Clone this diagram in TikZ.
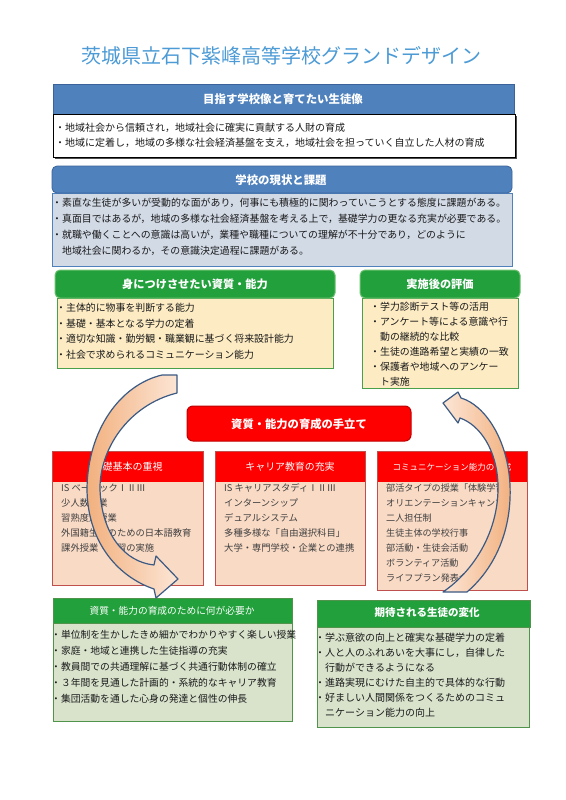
\documentclass[tikz,border=0pt]{standalone}
\usepackage{fontspec}
\setmainfont{Noto Sans CJK JP}
\definecolor{titleblue}{HTML}{4C9BD6}
\definecolor{hdrblue}{HTML}{4F81BD}
\definecolor{hdrblueline}{HTML}{3A6399}
\definecolor{bodyblue}{HTML}{D2DAE6}
\definecolor{hdrgreen}{HTML}{22A03C}
\definecolor{hdrgreenline}{HTML}{6CC070}
\definecolor{cream}{HTML}{FCEBC3}
\definecolor{creamline}{HTML}{4AA04A}
\definecolor{redfill}{HTML}{FF0000}
\definecolor{redline}{HTML}{C00000}
\definecolor{peach}{HTML}{F9DAC5}
\definecolor{peachline}{HTML}{C0504D}
\definecolor{sage}{HTML}{D9E3CC}
\definecolor{sageline}{HTML}{4F944A}
\definecolor{arrowline}{HTML}{3B5A84}
\definecolor{arrowlight}{HTML}{FCE6D6}
\definecolor{arrowdark}{HTML}{F2B07E}
\definecolor{txtdark}{HTML}{1A1A1A}
\definecolor{txtgray}{HTML}{404040}
\newcommand\setfs[2]{\fontsize{#1}{#2}\selectfont}
\tikzset{
  hdrtext/.style={text=white, inner sep=0pt, font=\bfseries\setfs{11.4}{13}},
  bodytext/.style={anchor=north west, inner sep=0pt, align=left, text=txtdark},
  bandL/.style={draw=arrowline, line width=1.2pt, line join=round, left color=arrowdark, right color=arrowlight},
  bandR/.style={draw=arrowline, line width=1.2pt, line join=round, left color=arrowlight, right color=arrowdark},
}
\begin{document}
\begin{tikzpicture}[x=1pt,y=-1pt]
\useasboundingbox (0,0) rectangle (565,800);
\fill[white] (0,0) rectangle (565,800);

% title
\node[text=titleblue, inner sep=0pt, font=\setfs{20}{22}] (title) at (281,56) {茨城県立石下紫峰高等学校グランドデザイン};

% box 1
\fill[hdrblue, draw=hdrblueline, line width=0.8pt] (53,84) rectangle (514,114);
\fill[black!70] (55,116) rectangle (517,159);
\draw[black, fill=white, line width=0.8pt] (53,114) rectangle (515,157);
\node[hdrtext] (h1) at (283,99) {目指す学校像と育てたい生徒像};
\node[bodytext, font=\setfs{10}{15}] (t1) at (55,123.2) {・地域社会から信頼され，地域社会に確実に貢献する人財の育成\\・地域に定着し，地域の多様な社会経済基盤を支え，地域社会を担っていく自立した人材の育成};

% box 2
\draw[fill=bodyblue, draw=hdrblue, line width=0.8pt] (52,193) rectangle (512,266);
\draw[fill=hdrblue, draw=hdrblueline, line width=0.8pt, rounded corners=5pt] (52,166) rectangle (512,193);
\node[hdrtext] (h2) at (281,180) {学校の現状と課題};
\node[bodytext, font=\setfs{9.9}{16}] (t2) at (52,198.2) {・素直な生徒が多いが受動的な面があり，何事にも積極的に関わっていこうとする態度に課題がある。\\・真面目ではあるが，地域の多様な社会経済基盤を考える上で，基礎学力の更なる充実が必要である。\\・就職や働くことへの意識は高いが，業種や職種についての理解が不十分であり，どのように\\　地域社会に関わるか，その意識決定過程に課題がある。};

% green left
\draw[fill=cream, draw=creamline, line width=1pt] (57,298) rectangle (333,368);
\draw[fill=hdrgreen, draw=hdrgreenline, line width=1pt, rounded corners=5pt] (55,270) rectangle (335,298);
\node[hdrtext, font=\bfseries\setfs{11.2}{13}] (g1) at (195,284) {身につけさせたい資質・能力};
\node[bodytext, font=\setfs{9.9}{15.6}] (t3) at (56,303.2) {・主体的に物事を判断する能力\\・基礎・基本となる学力の定着\\・適切な知識・勤労観・職業観に基づく将来設計能力\\・社会で求められるコミュニケーション能力};

% green right
\draw[fill=cream, draw=creamline, line width=1pt] (362,298) rectangle (518,388);
\draw[fill=hdrgreen, draw=hdrgreenline, line width=1pt, rounded corners=5pt] (360,270) rectangle (520,298);
\node[hdrtext, font=\bfseries\setfs{11.2}{13}] (g2) at (440,284) {実施後の評価};
\node[bodytext, font=\setfs{9.9}{15}] (t4) at (370,302.2) {・学力診断テスト等の活用\\・アンケート等による意識や行\\　動の継続的な比較\\・生徒の進路希望と実績の一致\\・保護者や地域へのアンケー\\　ト実施};

% red centre
\draw[fill=redfill, draw=redline, line width=1pt, rounded corners=6pt] (187,406) rectangle (411,441);
\node[hdrtext, font=\bfseries\setfs{11.3}{13}] (r0) at (299,424) {資質・能力の育成の手立て};

% three red boxes
\draw[fill=peach, draw=peachline, line width=1pt] (52,451) rectangle (203,585);
\fill[redfill] (52.5,451.5) rectangle (202.5,482);
\draw[peachline, line width=1pt] (52,451) rectangle (203,585);
\node[text=white, inner sep=0pt, font=\setfs{10}{12}] (rb1) at (127.5,467) {基礎基本の重視};
\node[bodytext, text=txtgray, font=\setfs{9.3}{15}] (t5) at (61,483.5) {IS ベーシックⅠⅡⅢ\\少人数授業\\習熟度別授業\\外国籍生徒のための日本語教育\\課外授業・補習の実施};

\draw[fill=peach, draw=peachline, line width=1pt] (215,451) rectangle (365,585);
\fill[redfill] (215.5,451.5) rectangle (364.5,482);
\draw[peachline, line width=1pt] (215,451) rectangle (365,585);
\node[text=white, inner sep=0pt, font=\setfs{9.9}{12}] (rb2) at (290,467) {キャリア教育の充実};
\node[bodytext, text=txtgray, font=\setfs{9.3}{15}] (t6) at (224,483.5) {IS キャリアスタディⅠⅡⅢ\\インターンシップ\\デュアルシステム\\多種多様な「自由選択科目」\\大学・専門学校・企業との連携};

\draw[fill=peach, draw=peachline, line width=1pt] (377,451) rectangle (527,590);
\fill[redfill] (377.5,451.5) rectangle (526.5,482);
\draw[peachline, line width=1pt] (377,451) rectangle (527,590);
\node[text=white, inner sep=0pt, font=\setfs{8.5}{10}] (rb3) at (452,467) {コミュニケーション能力の育成};
\node[bodytext, text=txtgray, font=\setfs{9.1}{15}] (t7) at (386,483.5) {部活タイプの授業「体験学習」\\オリエンテーションキャンプ\\二人担任制\\生徒主体の学校行事\\部活動・生徒会活動\\ボランティア活動\\ライフプラン発表会};

% bottom left
\draw[fill=sage, draw=sageline, line width=1pt] (53,623) rectangle (292,721);
\draw[fill=hdrgreen, draw=sageline, line width=1pt] (53,598) rectangle (292,623);
\node[text=white, inner sep=0pt, font=\setfs{9.7}{12}] (b1) at (172,611) {資質・能力の育成のために何が必要か};
\node[bodytext, font=\setfs{9.8}{16}] (t8) at (51,630.3) {・単位制を生かしたきめ細かでわかりやすく楽しい授業\\・家庭・地域と連携した生徒指導の充実\\・教員間での共通理解に基づく共通行動体制の確立\\・３年間を見通した計画的・系統的なキャリア教育\\・集団活動を通した心身の発達と個性の伸長};

% bottom right
\draw[fill=sage, draw=sageline, line width=1pt] (317,627) rectangle (529,727);
\draw[fill=hdrgreen, draw=sageline, line width=1pt] (317,600) rectangle (530,627);
\node[hdrtext, font=\bfseries\setfs{10.5}{12}] (b2) at (427,613) {期待される生徒の変化};
\node[bodytext, font=\setfs{10}{15}] (t9) at (315,633.2) {・学ぶ意欲の向上と確実な基礎学力の定着\\・人と人のふれあいを大事にし，自律した\\　行動ができるようになる\\・進路実現にむけた自主的で具体的な行動\\・好ましい人間関係をつくるためのコミュ\\　ニケーション能力の向上};

% curved arrows
\path[bandL] (162,375) -- (177,375) -- (177,393)
  .. controls (128,405) and (99,450) .. (100,490)
  .. controls (102,535) and (125,562) .. (154,565)
  -- (156,556) -- (178,579) -- (156,598) -- (154,589)
  .. controls (116,576) and (87,540) .. (87,488)
  .. controls (88,430) and (120,385) .. (162,375) -- cycle;
\path[bandR] (443,592) -- (467,592)
  .. controls (495,568) and (512,530) .. (510,485)
  .. controls (508,440) and (485,405) .. (461,398)
  -- (458,392) -- (443,403) -- (458,423) -- (460,418)
  .. controls (480,425) and (497,450) .. (498,485)
  .. controls (499,530) and (475,570) .. (443,592) -- cycle;
\end{tikzpicture}
\end{document}
